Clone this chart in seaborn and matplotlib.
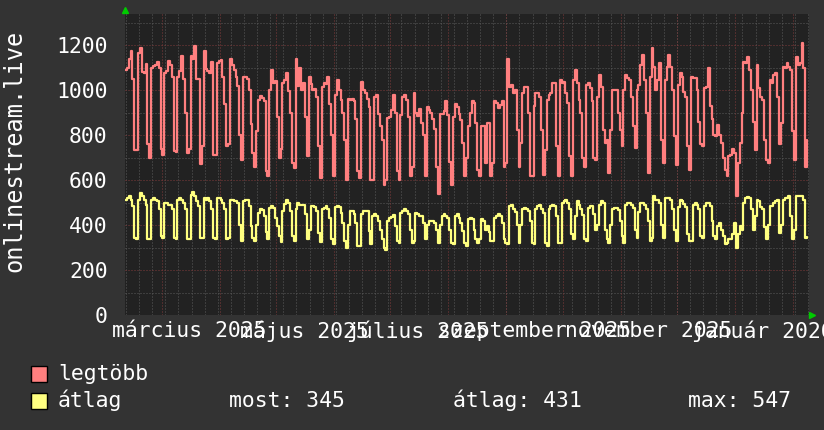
"""
onlinestream.live - nézők száma, egy év (rrdtool-szerű grafikon).
"""

import matplotlib
matplotlib.use('Agg')
import matplotlib.pyplot as plt
import matplotlib.dates as mdates
from matplotlib.lines import Line2D
from matplotlib.patches import Rectangle
from matplotlib.ticker import MultipleLocator, FuncFormatter
import numpy as np
import pandas as pd
import seaborn as sns

# Adatok: napi értékek, hetente egy sor
kezdet = '2025-02-09 12:00'
veg = '2026-02-09 12:00'

legtobb = [
    1090, 1100, 1140, 1175, 1050, 735, 735,
    1165, 1185, 1080, 1075, 1115, 760, 700,
    1100, 1105, 1110, 1125, 1100, 740, 710,
    1075, 1085, 1130, 1110, 1060, 730, 725,
    1060, 1085, 1150, 1050, 900, 720, 740,
    1150, 1140, 1195, 1050, 1050, 670, 750,
    1175, 1095, 1085, 1075, 1125, 712, 712,
    1120, 1130, 1135, 1060, 940, 750, 760,
    1140, 1110, 1090, 1060, 1020, 800, 690,
    1060, 1060, 1050, 1000, 850, 720, 660,
    820, 955, 975, 965, 950, 640, 620,
    1000, 1090, 1030, 1040, 880, 700, 740,
    1030, 1045, 1075, 995, 900, 675, 655,
    1140, 1020, 1100, 1000, 1030, 880, 705,
    1060, 1025, 1000, 1005, 970, 750, 610,
    1015, 1030, 1025, 1060, 940, 800, 616,
    980, 1045, 1000, 955, 900, 780, 602,
    960, 955, 960, 950, 870, 640, 610,
    1037, 1000, 985, 960, 925, 600, 598,
    970, 980, 895, 840, 780, 580, 600,
    875, 880, 910, 980, 900, 640, 602,
    890, 970, 980, 955, 880, 616, 660,
    985, 900, 885, 915, 855, 800, 616,
    925, 910, 900, 870, 825, 660, 540,
    895, 895, 905, 950, 890, 680, 580,
    880, 940, 925, 895, 865, 765, 616,
    700, 840, 900, 950, 942, 853, 646,
    616, 838, 838, 675, 853, 853, 616,
    675, 950, 942, 920, 934, 950, 660,
    675, 1137, 1015, 1023, 986, 1000, 823,
    660, 764, 986, 1015, 1015, 897, 616,
    616, 927, 986, 986, 971, 823, 624,
    735, 956, 978, 986, 1030, 1030, 750,
    616, 1045, 1030, 1037, 986, 942, 705,
    616, 1045, 1090, 1030, 956, 897, 700,
    660, 1023, 1030, 1010, 950, 700, 690,
    971, 1067, 1015, 823, 764, 780, 632,
    823, 1000, 1000, 1000, 897, 823, 750,
    1000, 1067, 1052, 1045, 971, 838, 742,
    1000, 1023, 1110, 1156, 1045, 897, 632,
    1060, 1185, 1104, 1000, 1045, 1119, 780,
    675, 1045, 1104, 1156, 1104, 1000, 794,
    668, 1023, 1074, 1060, 993, 971, 750,
    646, 1060, 1052, 1052, 1000, 860, 760,
    750, 1010, 1015, 1100, 930, 870, 800,
    794, 845, 800, 764, 700, 646, 616,
    705, 712, 740, 720, 528, 675, 764,
    900, 1126, 1119, 1148, 1090, 1000, 860,
    735, 1110, 1010, 971, 956, 780, 690,
    675, 1045, 1030, 1067, 1074, 971, 760,
    853, 1104, 1097, 1119, 1104, 1090, 820,
    690, 1148, 1110, 1119, 1207, 1100, 660,
    780,
]

atlag = [
    513, 521, 528, 513, 484, 343, 336,
    513, 543, 528, 513, 490, 336, 336,
    513, 521, 513, 506, 469, 351, 343,
    498, 498, 491, 491, 469, 343, 336,
    513, 521, 513, 498, 469, 336, 336,
    535, 547, 528, 506, 484, 343, 343,
    521, 513, 521, 506, 469, 343, 336,
    521, 521, 513, 498, 469, 336, 343,
    513, 513, 506, 506, 500, 400, 330,
    506, 513, 510, 484, 395, 343, 329,
    400, 454, 469, 465, 440, 370, 336,
    476, 484, 476, 430, 395, 350, 324,
    461, 495, 510, 498, 461, 351, 329,
    469, 498, 487, 490, 487, 447, 336,
    380, 484, 484, 481, 461, 366, 326,
    470, 476, 484, 472, 432, 339, 314,
    480, 484, 479, 454, 410, 329, 299,
    400, 461, 461, 450, 410, 306, 306,
    447, 461, 461, 461, 373, 317, 439,
    447, 439, 417, 380, 336, 299, 290,
    420, 429, 436, 444, 395, 329, 321,
    454, 461, 469, 461, 447, 380, 321,
    330, 454, 447, 439, 439, 410, 340,
    400, 417, 417, 417, 410, 380, 321,
    400, 439, 447, 439, 432, 380, 321,
    314, 439, 447, 432, 410, 373, 321,
    306, 425, 432, 425, 380, 336, 321,
    340, 425, 417, 380, 395, 370, 330,
    329, 432, 439, 447, 439, 410, 336,
    321, 314, 484, 491, 469, 460, 400,
    321, 400, 469, 476, 469, 461, 420,
    321, 314, 469, 484, 491, 469, 454,
    321, 306, 469, 484, 491, 484, 439,
    320, 321, 498, 506, 513, 498, 469,
    360, 336, 440, 506, 490, 472, 445,
    336, 329, 476, 484, 484, 450, 380,
    400, 491, 506, 498, 380, 336, 321,
    400, 469, 476, 476, 465, 420, 351,
    321, 491, 498, 498, 491, 475, 380,
    343, 460, 498, 498, 490, 469, 420,
    329, 343, 530, 513, 513, 500, 400,
    343, 521, 521, 521, 513, 469, 380,
    329, 480, 513, 506, 495, 480, 360,
    329, 329, 491, 498, 490, 470, 351,
    343, 484, 498, 500, 484, 420, 351,
    336, 395, 410, 380, 351, 314, 321,
    336, 336, 360, 410, 300, 360, 395,
    380, 498, 520, 525, 521, 469, 380,
    440, 513, 506, 480, 469, 390, 336,
    400, 484, 484, 498, 506, 513, 366,
    400, 513, 521, 521, 528, 440, 336,
    380, 528, 528, 528, 528, 513, 343,
    345,
]

sorozatok = ['legtöbb', 'átlag']
szinek = ['#ff7f7f', '#ffff80']
honapok = ['január', 'február', 'március', 'április', 'május', 'június',
           'július', 'augusztus', 'szeptember', 'október', 'november', 'december']
osszegzes = ['most: 345', 'átlag: 431', 'max: 547']
y_felirat = 'onlinestream.live'

HATTER = '#333333'
RAJZTER = '#222222'
RACS_KICSI = '#5a5a5a'
RACS_NAGY = '#7f3a3a'
BETU = 15.4

sns.set_theme(style='dark')
plt.rcParams['font.family'] = ['DejaVu Sans Mono', 'DejaVu Sans']

napok = pd.date_range(kezdet, periods=len(legtobb), freq='D')
df = pd.DataFrame({
    'nap': list(napok) * 2,
    'ertek': legtobb + atlag,
    'sorozat': [sorozatok[0]] * len(legtobb) + [sorozatok[1]] * len(atlag),
})

W, H = 824, 430
fig = plt.figure(figsize=(W / 100, H / 100), dpi=100, facecolor=HATTER)
ax = fig.add_axes([125 / W, (H - 315) / H, 684 / W, 301 / H])
ax.set_facecolor(RAJZTER)

sns.lineplot(data=df, x='nap', y='ertek', hue='sorozat',
             palette=dict(zip(sorozatok, szinek)), estimator=None,
             drawstyle='steps-post', linewidth=1.6, legend=False, ax=ax, zorder=3)

# Tengelyek
ax.set_xlim(pd.Timestamp(kezdet), pd.Timestamp(veg))
ax.set_ylim(0, 1338)
ax.yaxis.set_major_locator(MultipleLocator(200))
ax.yaxis.set_minor_locator(MultipleLocator(100))
ax.xaxis.set_major_locator(mdates.MonthLocator(bymonth=[1, 3, 5, 7, 9, 11], bymonthday=16))
ax.xaxis.set_minor_locator(mdates.WeekdayLocator(byweekday=mdates.MO))


def honap_felirat(x, pos):
    d = mdates.num2date(x)
    return f"{honapok[d.month - 1]} {d.year}"


ax.xaxis.set_major_formatter(FuncFormatter(honap_felirat))

pontozott = (0, (1, 2))
ax.grid(False)
ax.grid(which='minor', axis='both', color=RACS_KICSI, linestyle=pontozott, linewidth=0.72, zorder=1)
ax.grid(which='major', axis='y', color=RACS_NAGY, linestyle=pontozott, linewidth=0.72, zorder=2)
honap_elejek = pd.date_range('2025-03-01', '2026-02-01', freq='MS')
ax.vlines(honap_elejek, 0, 1338, colors=RACS_NAGY, linestyles=pontozott, linewidth=0.72, zorder=2)

ax.tick_params(axis='both', which='both', length=0, colors='white', labelsize=BETU)
ax.tick_params(axis='x', pad=4)
ax.tick_params(axis='y', pad=12.5)
ax.set_xlabel('')
ax.set_ylabel('')
for s in ax.spines.values():
    s.set_visible(False)

fig.text(14 / W, 1 - 151 / H, y_felirat, rotation=90, ha='center', va='center',
         color='white', fontsize=17)

# Zöld nyilak a tengelyek végén
fig.add_artist(Line2D([125 / W], [1 - 10 / H], marker='^', color='#00cc00', markersize=5,
                      transform=fig.transFigure, linestyle='none'))
fig.add_artist(Line2D([812 / W], [1 - 315 / H], marker='>', color='#00cc00', markersize=5,
                      transform=fig.transFigure, linestyle='none'))

# Jelmagyarázat
for i, (nev, szin) in enumerate(zip(sorozatok, szinek)):
    y_also = 382 + 27 * i
    fig.add_artist(Rectangle((31 / W, 1 - y_also / H), 16 / W, 16 / H, transform=fig.transFigure,
                             facecolor=szin, edgecolor='black', linewidth=1))
    fig.text(58 / W, 1 - (y_also - 2) / H, nev, color='white', fontsize=BETU, va='baseline')

for x, szoveg in zip([229, 453, 688], osszegzes):
    fig.text(x / W, 1 - 407 / H, szoveg, color='white', fontsize=BETU, va='baseline')

fig.savefig('out.png', dpi=100, facecolor=fig.get_facecolor())
plt.close(fig)
